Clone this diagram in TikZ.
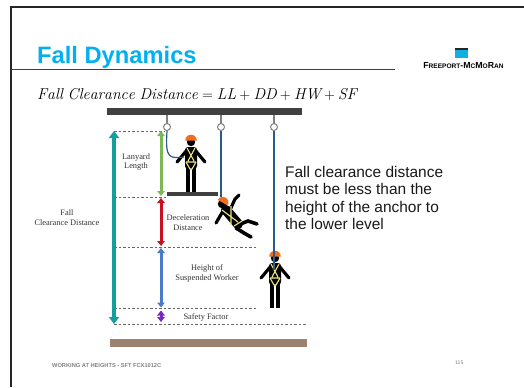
\documentclass[tikz,border=0pt]{standalone}
\usepackage{fontspec}
\newfontfamily\arialf{Liberation Sans}
\newfontfamily\timesf{Liberation Serif}
\usetikzlibrary{arrows.meta, positioning}

\definecolor{titleblue}{RGB}{0,176,240}
\definecolor{beamgray}{RGB}{64,64,64}
\definecolor{tealdim}{RGB}{20,158,158}
\definecolor{greendim}{RGB}{124,185,85}
\definecolor{reddim}{RGB}{200,16,30}
\definecolor{bluedim}{RGB}{74,123,200}
\definecolor{purpledim}{RGB}{120,40,190}
\definecolor{hatorange}{RGB}{240,110,30}
\definecolor{harnessyellow}{RGB}{236,228,125}
\definecolor{lanyardblue}{RGB}{40,90,140}
\definecolor{groundbrown}{RGB}{155,130,115}
\definecolor{logoblue}{RGB}{20,175,225}

\begin{document}
\begin{tikzpicture}[x=1bp, y=-1bp,
  levelline/.style={gray!80!black, line width=0.6bp, dash pattern=on 2.5bp off 2bp},
  dim/.style={line width=3bp, {Triangle[length=5bp,width=7.5bp]}-{Triangle[length=5bp,width=7.5bp]}},
  bigdim/.style={line width=4.5bp, {Triangle[length=7bp,width=10bp]}-{Triangle[length=7bp,width=10bp]}},
  dimtext/.style={font=\timesf\fontsize{8.4}{10}\selectfont, align=center, text=black!80, inner sep=0pt},
  lanyard/.style={lanyardblue, line width=1.2bp},
  harness/.style={harnessyellow, line width=1.1bp},
  ring/.style={draw=gray, fill=white, line width=1bp},
  worker/.pic={
    % legs and arms
    \draw[line width=4bp] (-3,24) -- (-3,50);
    \draw[line width=4bp] (3,24) -- (3,50);
    \draw[line width=3.2bp, line cap=round] (-4,8) -- (-14,20);
    \draw[line width=3.2bp, line cap=round] (4,8) -- (14,20);
    % torso, head and hard hat
    \fill[rounded corners=3bp] (-6,5) rectangle (6,27);
    \fill (0,0) circle[radius=4.2];
    \fill[hatorange] (-5.8,-1.5) arc[start angle=180, end angle=360, radius=5.8] -- cycle;
    % harness
    \draw[harness] (-4,6) -- (3,19) (4,6) -- (-3,19) (-5,20) -- (5,20)
      (-5,20) -- (-1,27) -- (1,27) -- (5,20);
  }]

  \useasboundingbox (0,0) rectangle (524,387);

  % Draw the slide frame
  \draw[black!85, line width=1.6bp] (11,387) -- (11,7) -- (524,7);
  \draw[black!75, line width=0.9bp] (11,69.5) -- (395,69.5);

  % Title, logo and formula
  \node[anchor=base west, inner sep=0pt, text=titleblue, font=\arialf\bfseries\fontsize{23.8}{26}\selectfont] (title) at (37,63) {Fall Dynamics};
  \fill[logoblue] (455,48) rectangle (468,58);
  \fill[black!85] (455,48) rectangle (468,49.5);
  \node[anchor=base, inner sep=0pt, font=\arialf\bfseries\fontsize{8.8}{9}\selectfont] (logo) at (463.5,68)
    {F{\fontsize{6.6}{7}\selectfont REEPORT}-M{\fontsize{6.6}{7}\selectfont C}M{\fontsize{6.6}{7}\selectfont O}R{\fontsize{6.6}{7}\selectfont AN}};
  \node[anchor=base west, inner sep=0pt, font=\fontsize{15.8}{19}\selectfont] (formula) at (37,99)
    {$\mathit{Fall\ Clearance\ Distance} = \mathit{LL} + \mathit{DD} + \mathit{HW} + \mathit{SF}$};

  % Draw the anchor beam, rings and ground
  \fill[beamgray] (107,108) rectangle (302,115);
  \fill[groundbrown] (110,339) rectangle (307,347);
  \foreach \x/\n in {167/1, 221/2, 274/3} {
    \draw[gray, line width=2bp] (\x,115) -- (\x,123.5);
    \node[ring, circle, minimum size=7bp, inner sep=0pt] (ring\n) at (\x,127) {};
  }

  % Reference levels
  \coordinate (top) at (114,131);
  \coordinate (platform) at (114,197);
  \coordinate (decel) at (114,247);
  \coordinate (hang) at (114,308.5);
  \coordinate (bottom) at (114,324);

  \draw[levelline] (top) -- (165,131);
  \draw[levelline] (platform) -- (167,197);
  \draw[levelline] (decel) -- (258,247);
  \draw[levelline] (hang) -- (258,308.5);
  \draw[levelline] (bottom) -- (306,324);

  % Draw the dimension arrows
  \draw[bigdim, tealdim] (top) -- (bottom);
  \draw[dim, greendim] ([xshift=47bp]top) -- ([xshift=47bp, yshift=1bp]platform);
  \draw[dim, reddim] ([xshift=47bp, yshift=-1bp]platform) -- ([xshift=47bp, yshift=1bp]decel);
  \draw[dim, bluedim] ([xshift=47bp, yshift=-1bp]decel) -- ([xshift=47bp, yshift=1bp]hang);
  \draw[dim, purpledim] ([xshift=47bp, yshift=-2bp]hang) -- ([xshift=47bp, yshift=2bp]bottom);

  % Labels of the distances
  \node[dimtext] (fcd) at (67,218) {Fall\\Clearance Distance};
  \node[dimtext] (ll) at (136,162) {Lanyard\\Length};
  \node[dimtext] (dd) at (188,223) {Deceleration\\Distance};
  \node[dimtext] (hw) at (207,273) {Height of\\Suspended Worker};
  \node[dimtext] (sf) at (206,317) {Safety Factor};

  % Worker standing on the platform
  \fill[beamgray] (167,192) rectangle (218,196);
  \pic at (191,142) {worker};
  \draw[lanyard] (ring1.south) .. controls (165,160) and (170,158) .. (184,157);

  % Worker in free fall
  \draw[lanyard] (ring2.south) -- (221,197);
  \begin{scope}
    \draw[line width=3.2bp, line cap=round] (230,210) -- (235,199) -- (239,195);
    \draw[line width=3.2bp, line cap=round] (223,211) -- (216,223);
    \draw[line width=3.6bp, line cap=round] (238,225) -- (248,221) -- (257,224);
    \draw[line width=3.6bp, line cap=round] (236,228) -- (244,233) -- (251,237);
    \draw[line width=10bp, line cap=round] (226,210) -- (238,224);
    \fill (222,204) circle[radius=4.2];
    \fill[hatorange, rotate around={-30:(222,204)}] (216.2,202.5) arc[start angle=180, end angle=360, radius=5.8] -- cycle;
    \draw[harness] (222,210) -- (238,222) (231,206) -- (231,225) (234,226) -- (242,221);
  \end{scope}

  % Worker hanging from the lanyard
  \pic at (275,258) {worker};
  \draw[lanyard] (ring3.south) -- (274,270);

  % Note on the right
  \node[anchor=north west, inner sep=0pt, align=left, font=\arialf\fontsize{15.5}{17.5}\selectfont, text=black!90] (note) at (285,166)
    {Fall clearance distance\\must be less than the\\height of the anchor to\\the lower level};

  % Footer
  \node[anchor=base west, inner sep=0pt, text=gray, font=\arialf\bfseries\fontsize{5.7}{6}\selectfont] (footer) at (52,367) {WORKING AT HEIGHTS - SFT FCX1012C};
  \node[anchor=base west, inner sep=0pt, text=gray, font=\arialf\fontsize{5.2}{6}\selectfont] (page) at (455,364) {115};
\end{tikzpicture}
\end{document}
